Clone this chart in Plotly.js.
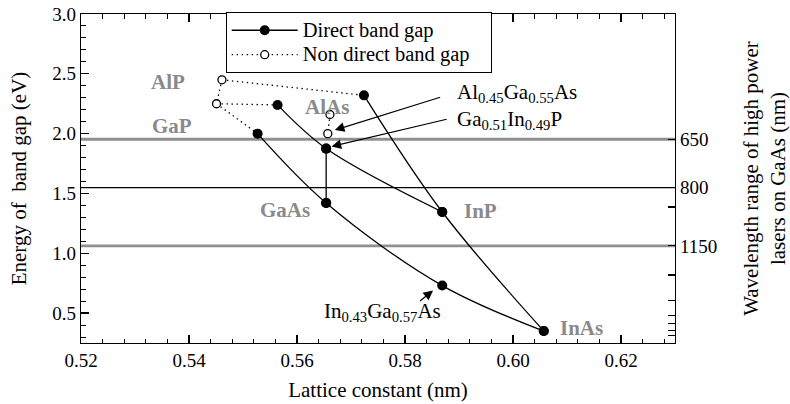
<!DOCTYPE html>
<html>
<head>
<meta charset="utf-8">
<script src="https://cdn.plot.ly/plotly-3.0.1.min.js"></script>
<style>
  html, body { margin: 0; padding: 0; background: #ffffff; }
  #chart { width: 790px; height: 404px; }
  /* every label of this figure is set in a Times-like serif */
  svg text, svg tspan { font-family: 'Liberation Serif', serif !important; }
  .legendtext { font-size: 20.5px !important; }
</style>
</head>
<body>
<div id="chart"></div>
<script>
// ---- Direct band gap curves: lattice constant (nm) vs. band-gap energy (eV) ----
const gapLowX  = [0.5527, 0.5654, 0.5869, 0.6057];   // GaP(direct) - GaAs - In0.43Ga0.57As - InAs
const gapLowY  = [2.00,   1.42,   0.73,   0.35];
const gapMidX  = [0.5564, 0.5654, 0.5869];           // upper end - Ga0.51In0.49P - InP
const gapMidY  = [2.24,   1.875,  1.345];
const gapHighX = [0.5724, 0.5869, 0.6057];           // upper end - InP - InAs
const gapHighY = [2.32,   1.345,  0.35];
const gaInPTieX = [0.5654, 0.5654];                  // Ga0.51In0.49P down to GaAs
const gaInPTieY = [1.875,  1.42];

// ---- Non direct band gap connections ----
const alAsTieX = [0.5661, 0.5657];                   // AlAs - Al0.45Ga0.55As
const alAsTieY = [2.16,   2.00];
const alPTieX  = [0.5461, 0.5724];
const alPTieY  = [2.45,   2.32];
const alPGaPX  = [0.5461, 0.5451];
const alPGaPY  = [2.45,   2.25];
const gaPMidX  = [0.5451, 0.5564];
const gaPMidY  = [2.25,   2.24];
const gaPLowX  = [0.5451, 0.5527];
const gaPLowY  = [2.25,   2.00];
const openX = [0.5461, 0.5451];                      // AlP, GaP indirect points
const openY = [2.45,   2.25];

// ---- Laser wavelength bands (right axis) ----
const laserLabels   = ['650', '800', '1150'];
const laserEnergies = [1.953, 1.548, 1.062];
const minorWaveEnergies = [1.386, 0.819, 0.606, 0.481, 0.412, 0.356, 0.31];

// ---- Material names and compositions ----
const materialNames = ['AlP', 'GaP', 'AlAs', 'GaAs', 'InP', 'InAs'];
const alloyNames = ['Al<sub>0.45</sub>Ga<sub>0.55</sub>As',
                    'Ga<sub>0.51</sub>In<sub>0.49</sub>P',
                    'In<sub>0.43</sub>Ga<sub>0.57</sub>As'];

const SERIF = 'Liberation Serif';
const GREY = '#8a8a8a';
const serif = (size, color) => ({ family: SERIF, size: size, color: color || '#000000' });

const solidLine = () => ({ color: '#000', width: 1.3, shape: 'spline', smoothing: 1 });
const dotLine = () => ({ color: '#000', width: 1.3, dash: '1.4px,3.6px' });
const filledDot = () => ({ symbol: 'circle', size: 10, color: '#000' });
const openDot = () => ({ symbol: 'circle', size: 8, color: '#fff', line: { color: '#000', width: 1.3 } });

function direct(x, y, show) {
  return { x, y, type: 'scatter', mode: 'lines+markers', name: 'Direct band gap',
           showlegend: show, line: solidLine(), marker: filledDot(), hoverinfo: 'skip' };
}
function indirectLine(x, y) {
  return { x, y, type: 'scatter', mode: 'lines', showlegend: false,
           line: dotLine(), hoverinfo: 'skip' };
}

const data = [
  indirectLine(alPTieX, alPTieY),
  indirectLine(alPGaPX, alPGaPY),
  indirectLine(gaPMidX, gaPMidY),
  indirectLine(gaPLowX, gaPLowY),
  direct(gapLowX, gapLowY, true),
  direct(gapMidX, gapMidY, false),
  direct(gapHighX, gapHighY, false),
  { x: gaInPTieX, y: gaInPTieY, type: 'scatter', mode: 'lines+markers',
    showlegend: false, line: { color: '#000', width: 1.3 }, marker: filledDot(), hoverinfo: 'skip' },
  { x: alAsTieX, y: alAsTieY, type: 'scatter', mode: 'lines+markers',
    name: 'Non direct band gap\u00a0\u00a0\u00a0',
    showlegend: true, line: dotLine(), marker: openDot(), hoverinfo: 'skip' },
  { x: openX, y: openY, type: 'scatter', mode: 'markers', showlegend: false,
    marker: openDot(), hoverinfo: 'skip' },
  // wavelength scale lives on the right-hand axis
  { x: [], y: [], type: 'scatter', mode: 'markers', yaxis: 'y2', showlegend: false, hoverinfo: 'skip' }
];

// label placement for material names (lattice, energy)
const nameSpots = [[0.5361, 2.433], [0.5368, 2.067], [0.5656, 2.22],
                   [0.5577, 1.359], [0.5939, 1.353], [0.6127, 0.379]];

const annotations = materialNames.map((t, i) => ({
  x: nameSpots[i][0], y: nameSpots[i][1], xref: 'x', yref: 'y', text: '<b>' + t + '</b>',
  showarrow: false, font: serif(21, GREY)
}));

annotations.push(
  { x: 0.5893, y: 2.342, xref: 'x', yref: 'y', xanchor: 'left', yanchor: 'middle',
    text: alloyNames[0], showarrow: false, font: serif(21) },
  { x: 0.5893, y: 2.118, xref: 'x', yref: 'y', xanchor: 'left', yanchor: 'middle',
    text: alloyNames[1], showarrow: false, font: serif(21) },
  { x: 0.587, y: 0.508, xref: 'x', yref: 'y', xanchor: 'right', yanchor: 'middle',
    text: alloyNames[2], showarrow: false, font: serif(21) }
);

// pointer arrows from the composition labels to their points
const arrowSpec = [
  [0.5868, 2.308, 0.5670, 2.030],
  [0.5880, 2.123, 0.5664, 1.893],
  [0.5825, 0.591, 0.5852, 0.689]
];
arrowSpec.forEach(a => annotations.push({
  ax: a[0], ay: a[1], x: a[2], y: a[3], axref: 'x', ayref: 'y', xref: 'x', yref: 'y',
  text: '', showarrow: true, arrowhead: 2, arrowsize: 1.6, arrowwidth: 1.2, arrowcolor: '#000',
  standoff: 0, startstandoff: 0
}));

const shapes = laserEnergies.map((e, i) => ({
  type: 'line', xref: 'paper', yref: 'y', x0: 0, x1: 1, y0: e, y1: e, layer: 'below',
  line: { color: i === 1 ? '#000' : '#8f8f8f', width: i === 1 ? 1.2 : 2.8 }
}));

const layout = {
  width: 790, height: 404,
  margin: { l: 81, r: 115, t: 12, b: 61 },
  paper_bgcolor: '#fff', plot_bgcolor: '#fff',
  font: serif(19),
  showlegend: true,
  legend: {
    x: 0.2436, y: 1.006, xanchor: 'left', yanchor: 'top',
    bgcolor: '#fff', bordercolor: '#000', borderwidth: 1,
    font: serif(16.5),
    itemwidth: 66, traceorder: 'normal'
  },
  xaxis: {
    range: [0.52, 0.63], tick0: 0.52, dtick: 0.02, tickformat: '.2f',
    ticks: 'inside', ticklen: 8, tickwidth: 1.2, tickcolor: '#000',
    showline: true, linecolor: '#000', linewidth: 1.2, mirror: 'ticks',
    showgrid: false, zeroline: false, tickfont: serif(19),
    minor: { dtick: 0.004, ticks: 'inside', ticklen: 4.5, tickwidth: 1, tickcolor: '#000', showgrid: false },
    title: { text: 'Lattice constant (nm)', font: serif(21), standoff: 12 }
  },
  yaxis: {
    range: [0.25, 3.0], tick0: 0, dtick: 0.5, tickformat: '.1f',
    ticks: 'inside', ticklen: 8, tickwidth: 1.2, tickcolor: '#000',
    showline: true, linecolor: '#000', linewidth: 1.2, mirror: false,
    showgrid: false, zeroline: false, tickfont: serif(19),
    minor: { dtick: 0.1, ticks: 'inside', ticklen: 4.5, tickwidth: 1, tickcolor: '#000', showgrid: false },
    title: { text: 'Energy of\u00a0 band gap (eV)', font: serif(21), standoff: 20 }
  },
  yaxis2: {
    overlaying: 'y', side: 'right', range: [0.25, 3.0], anchor: 'x',
    tickmode: 'array',
    tickvals: laserEnergies.concat(minorWaveEnergies),
    ticktext: laserLabels.concat(minorWaveEnergies.map(() => '')),
    ticks: 'inside', ticklen: 7, tickwidth: 1.2, tickcolor: '#000',
    showline: true, linecolor: '#000', linewidth: 1.2,
    showgrid: false, zeroline: false, tickfont: serif(19),
    title: { text: 'Wavelength range of high power<br>lasers on GaAs (nm)', font: serif(21), standoff: 27 }
  },
  shapes: shapes,
  annotations: annotations
};

Plotly.newPlot('chart', data, layout, { staticPlot: true, displayModeBar: false });
</script>
</body>
</html>
